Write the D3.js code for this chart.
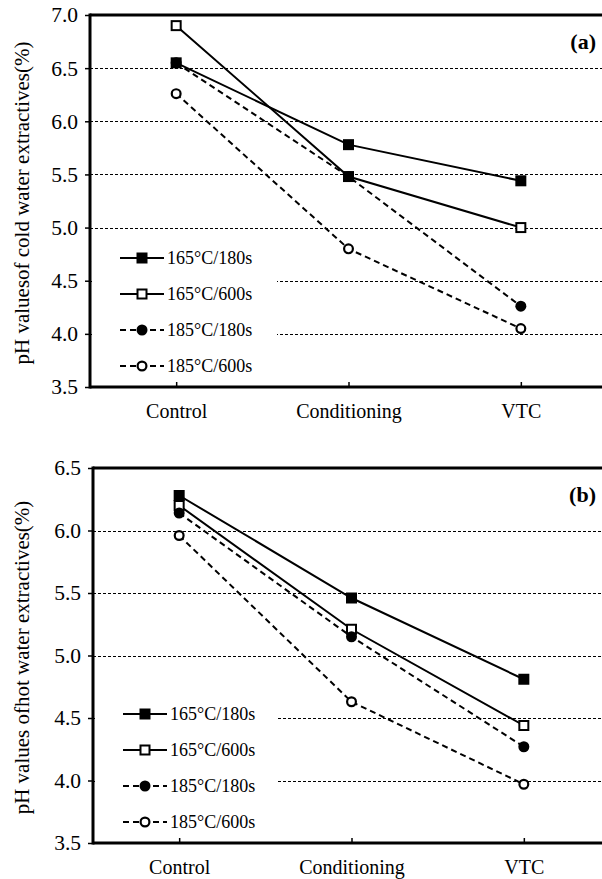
<!DOCTYPE html>
<html>
<head>
<meta charset="utf-8">
<script src="https://cdn.jsdelivr.net/npm/d3@7"></script>
<style>
  html, body { margin: 0; padding: 0; background: #fff; }
  svg { display: block; }
  svg text { font-family: "Liberation Serif", "Times New Roman", Times, serif !important; fill: #000; }
</style>
</head>
<body>
<svg id="chart" width="602" height="879"></svg>
<script>
// Treatment stages on the x axis
const categories = ["Control", "Conditioning", "VTC"];

// Series names (temperature / time)
const seriesNames = ["165°C/180s", "165°C/600s", "185°C/180s", "185°C/600s"];

// pH of cold water extractives, panel (a)
const coldA165_180 = [6.55, 5.78, 5.44];
const coldA165_600 = [6.90, 5.48, 5.00];
const coldA185_180 = [6.55, 5.48, 4.26];
const coldA185_600 = [6.26, 4.80, 4.05];

// pH of hot water extractives, panel (b)
const hotB165_180 = [6.28, 5.46, 4.81];
const hotB165_600 = [6.20, 5.21, 4.44];
const hotB185_180 = [6.14, 5.15, 4.27];
const hotB185_600 = [5.96, 4.63, 3.97];

// Y tick values
const ticksA = [3.5, 4.0, 4.5, 5.0, 5.5, 6.0, 6.5, 7.0];
const ticksB = [3.5, 4.0, 4.5, 5.0, 5.5, 6.0, 6.5];

// Marker styles per series
const markerStyle = [
  { shape: "square", filled: true,  dashed: false },
  { shape: "square", filled: false, dashed: false },
  { shape: "circle", filled: true,  dashed: true },
  { shape: "circle", filled: false, dashed: true }
];

const SERIF = '"Liberation Serif", "Times New Roman", Times, serif';
const svg = d3.select("#chart");

function drawMarker(g, style, x, y) {
  if (style.shape === "square") {
    if (style.filled) {
      g.append("rect").attr("x", x - 5.5).attr("y", y - 5.5)
        .attr("width", 11).attr("height", 11).attr("fill", "#000");
    } else {
      g.append("rect").attr("x", x - 4.5).attr("y", y - 4.5)
        .attr("width", 9).attr("height", 9)
        .attr("fill", "#fff").attr("stroke", "#000").attr("stroke-width", 2);
    }
  } else {
    if (style.filled) {
      g.append("circle").attr("cx", x).attr("cy", y).attr("r", 5.5).attr("fill", "#000");
    } else {
      g.append("circle").attr("cx", x).attr("cy", y).attr("r", 4.4)
        .attr("fill", "#fff").attr("stroke", "#000").attr("stroke-width", 2.2);
    }
  }
}

function panel(cfg) {
  const { left, right, top, bottom, domain, ticks, series, title, tag } = cfg;
  const g = svg.append("g");

  const x = d3.scalePoint().domain(categories).range([left, right]).padding(0.5);
  const y = d3.scaleLinear().domain(domain).range([bottom, top]);

  // horizontal dashed gridlines
  g.append("g").selectAll("line")
    .data(ticks.filter(t => t > domain[0] && t < domain[1]))
    .join("line")
    .attr("x1", left).attr("x2", right)
    .attr("y1", d => Math.round(y(d)) + 0.5).attr("y2", d => Math.round(y(d)) + 0.5)
    .attr("stroke", "#000").attr("stroke-width", 1).attr("stroke-dasharray", "3,2");

  // legend block (white background hides the gridlines behind it)
  const legTop = bottom - 129;
  const legRow = 36;
  g.append("rect").attr("x", left + 2).attr("y", legTop - 18)
    .attr("width", 277 - left - 2).attr("height", bottom - legTop + 16)
    .attr("fill", "#fff");

  // series lines and markers
  const line = d3.line().x((d, i) => x(categories[i])).y(d => y(d));
  series.forEach((vals, si) => {
    const st = markerStyle[si];
    const sg = g.append("g");
    sg.append("path").attr("d", line(vals))
      .attr("fill", "none").attr("stroke", "#000").attr("stroke-width", 2)
      .attr("stroke-dasharray", st.dashed ? "6,4" : null);
    vals.forEach((v, i) => drawMarker(sg, st, x(categories[i]), y(v)));
  });

  // legend entries
  seriesNames.forEach((name, si) => {
    const st = markerStyle[si];
    const ly = legTop + si * legRow;
    const lg = g.append("g");
    lg.append("line").attr("x1", left + 30).attr("x2", left + 74)
      .attr("y1", ly).attr("y2", ly)
      .attr("stroke", "#000").attr("stroke-width", 2)
      .attr("stroke-dasharray", st.dashed ? "6,4" : null);
    drawMarker(lg, st, left + 52, ly);
    lg.append("text").attr("x", left + 77).attr("y", ly + 6)
      .style("font-family", SERIF).attr("font-size", 18).text(name);
  });

  // frame: thick left, top and bottom rules
  g.append("line").attr("x1", left).attr("x2", right + 5).attr("y1", top).attr("y2", top)
    .attr("stroke", "#000").attr("stroke-width", 3);
  g.append("line").attr("x1", left).attr("x2", right + 5).attr("y1", bottom).attr("y2", bottom)
    .attr("stroke", "#000").attr("stroke-width", 3);
  g.append("line").attr("x1", left).attr("x2", left).attr("y1", top - 1.5).attr("y2", bottom + 1.5)
    .attr("stroke", "#000").attr("stroke-width", 3);

  // y axis ticks and labels
  const yAxis = d3.axisLeft(y).tickValues(ticks).tickSize(5).tickPadding(7)
    .tickFormat(d3.format(".1f"));
  const ya = g.append("g").attr("transform", `translate(${left},0)`).call(yAxis)
    .attr("font-family", null).attr("font-size", null);
  ya.select(".domain").remove();
  ya.selectAll(".tick line").attr("stroke", "#000").attr("stroke-width", 1.5);
  ya.selectAll(".tick text").style("font-family", SERIF).style("font-size", "21.5px")
    .attr("fill", "#000");

  // x axis: inward ticks, category labels below
  const xAxis = d3.axisBottom(x).tickSize(-5).tickPadding(17);
  const xa = g.append("g").attr("transform", `translate(0,${bottom})`).call(xAxis)
    .attr("font-family", null).attr("font-size", null);
  xa.select(".domain").remove();
  xa.selectAll(".tick line").attr("stroke", "#000").attr("stroke-width", 1.5);
  xa.selectAll(".tick text").style("font-family", SERIF).style("font-size", "20px")
    .attr("fill", "#000");

  // y axis title
  g.append("text")
    .attr("transform", `translate(29,${(top + bottom) / 2 + 2}) rotate(-90)`)
    .attr("text-anchor", "middle").style("font-family", SERIF)
    .attr("font-size", 21).text(title);

  // panel tag
  g.append("text").attr("x", 596).attr("y", top + 34)
    .attr("text-anchor", "end").style("font-family", SERIF)
    .attr("font-size", 22).attr("font-weight", "bold")
    .text(tag);
}

panel({
  left: 90, right: 607, top: 15, bottom: 387,
  domain: [3.5, 7.0], ticks: ticksA,
  series: [coldA165_180, coldA165_600, coldA185_180, coldA185_600],
  title: "pH valuesof cold water extractives(%)", tag: "(a)"
});

panel({
  left: 93, right: 610, top: 468, bottom: 843,
  domain: [3.5, 6.5], ticks: ticksB,
  series: [hotB165_180, hotB165_600, hotB185_180, hotB185_600],
  title: "pH values ofhot water extractives(%)", tag: "(b)"
});
</script>
</body>
</html>
